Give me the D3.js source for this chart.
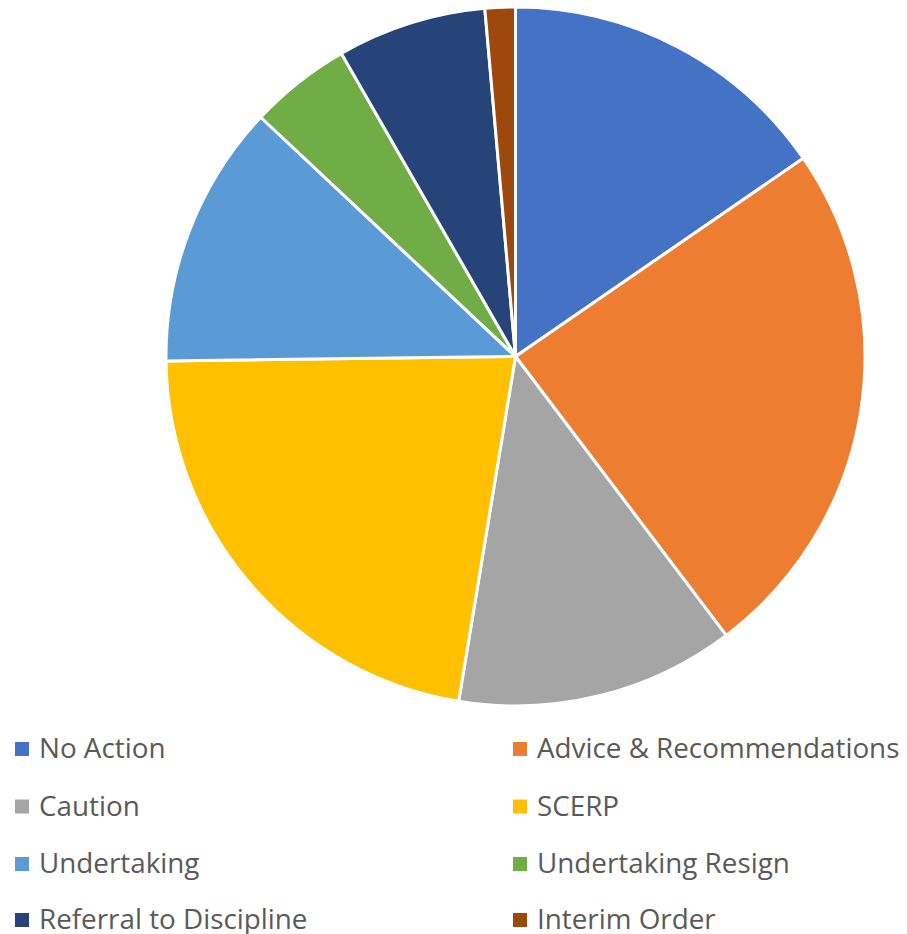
<!DOCTYPE html>
<html><head><meta charset="utf-8">
<script src="https://cdn.jsdelivr.net/npm/d3@7"></script>
<style>html,body{margin:0;padding:0;background:#fff;}svg{display:block;}</style>
</head><body>
<svg id="chart" width="907" height="934"></svg>
<script>
const categories = ["No Action","Advice & Recommendations","Caution","SCERP","Undertaking","Undertaking Resign","Referral to Discipline","Interim Order"];
const values = [15.4, 24.3, 12.9, 22.2, 12.2, 4.7, 6.9, 1.4];
const colors = ["#4472C4","#ED7D31","#A5A5A5","#FFC000","#5B9BD5","#70AD47","#264478","#9E480E"];

const svg = d3.select("#chart");
const cx = 515.5, cy = 356.5, r = 349.5;
const color = d3.scaleOrdinal().domain(categories).range(colors);
const data = categories.map((c,i)=>({name:c, value:values[i]}));
const pie = d3.pie().value(d=>d.value).sort(null);
const arc = d3.arc().innerRadius(0).outerRadius(r);

svg.append("g").attr("transform",`translate(${cx},${cy})`)
  .selectAll("path").data(pie(data)).join("path")
  .attr("d", arc)
  .attr("fill", d=>color(d.data.name))
  .attr("stroke","#fff").attr("stroke-width",3).attr("stroke-linejoin","round");

const colX = [15, 513];
const rowY = [758, 815.5, 873, 929];
const leg = svg.append("g");
data.forEach((d,i)=>{
  const col = i%2, row = Math.floor(i/2);
  const g = leg.append("g").attr("transform",`translate(${colX[col]},${rowY[row]})`);
  g.append("rect").attr("x",0).attr("y",-16).attr("width",14).attr("height",14).attr("fill",color(d.name));
  g.append("text").attr("x",24).attr("y",0).text(d.name)
    .attr("font-family","'Open Sans', sans-serif").attr("font-size",27.8).attr("fill","#595959");
});
</script>
</body></html>
